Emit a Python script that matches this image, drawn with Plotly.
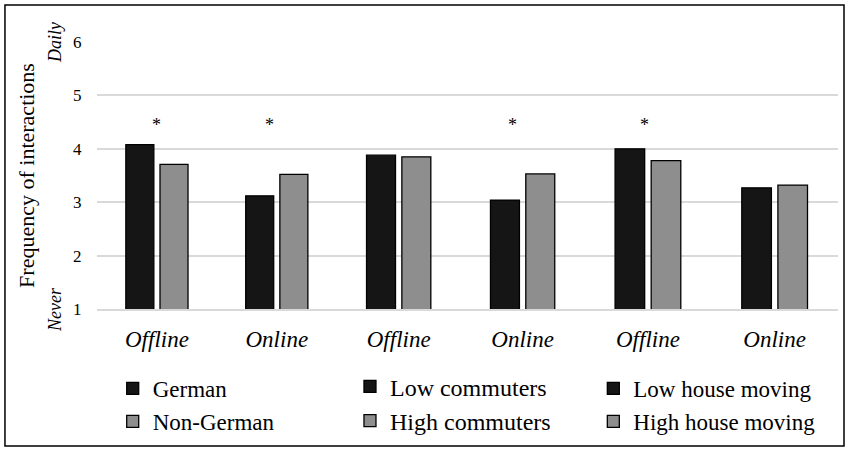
import plotly.graph_objects as go
from plotly.subplots import make_subplots

# Interaction modes shown in every panel
modes = ["Offline", "Online"]

# Panel 1: nationality
german = [4.08, 3.12]
non_german = [3.71, 3.52]

# Panel 2: commuting
low_commuters = [3.88, 3.04]
high_commuters = [3.85, 3.53]

# Panel 3: residential mobility
low_house_moving = [4.00, 3.27]
high_house_moving = [3.78, 3.32]

# Significant differences (marked with an asterisk)
sig_nationality = ["Offline", "Online"]
sig_commuting = ["Online"]
sig_moving = ["Offline"]

y_ticks = [1, 2, 3, 4, 5, 6]

DARK = "#151515"
LIGHT = "#8e8e8e"
GRID = "#d9d9d9"
SERIF = "Liberation Serif"

fig = make_subplots(rows=1, cols=3, shared_yaxes=True, horizontal_spacing=0)

panels = [
    (("German", german), ("Non-German", non_german), "legend"),
    (("Low commuters", low_commuters), ("High commuters", high_commuters), "legend2"),
    (("Low house moving", low_house_moving), ("High house moving", high_house_moving), "legend3"),
]

for col, (low, high, leg) in enumerate(panels, start=1):
    for (name, vals), color in ((low, DARK), (high, LIGHT)):
        fig.add_trace(
            go.Bar(
                x=modes,
                y=vals,
                name=name,
                legend=leg,
                marker=dict(color=color, line=dict(color="#000000", width=1.3)),
                hoverinfo="x+y+name",
            ),
            row=1,
            col=col,
        )

# x-domains of the three panels (paper coordinates)
domains = [[0.0, 0.3235], [0.3235, 0.658], [0.658, 1.0]]
for i, dom in enumerate(domains, start=1):
    fig.update_xaxes(
        domain=dom,
        showgrid=False,
        showline=True,
        linecolor=GRID,
        linewidth=2,
        ticks="",
        tickfont=dict(family=SERIF, size=23, color="#000000", style="italic"),
        ticklabelstandoff=8,
        automargin=False,
        row=1,
        col=i,
    )
    fig.update_yaxes(
        range=[1, 6],
        tickvals=y_ticks,
        showgrid=True,
        gridcolor=GRID,
        gridwidth=2,
        zeroline=False,
        showline=False,
        ticks="",
        automargin=False,
        row=1,
        col=i,
    )

# Invisible outside ticks keep the value labels clear of the plot edge
fig.update_yaxes(
    ticks="outside",
    ticklen=11,
    tickcolor="rgba(0,0,0,0)",
    tickfont=dict(family=SERIF, size=17, color="#000000"),
    title=dict(
        text="Frequency of interactions",
        font=dict(family=SERIF, size=22, color="#000000"),
        standoff=32,
    ),
    row=1,
    col=1,
)

# Scale end labels
for txt, yv in (("Daily", 6), ("Never", 1)):
    fig.add_annotation(
        text=txt,
        xref="paper",
        yref="y",
        x=-0.0567,
        y=yv,
        textangle=-90,
        showarrow=False,
        font=dict(family=SERIF, size=18, color="#000000", style="italic"),
        xanchor="center",
        yanchor="middle",
    )

# Significance asterisks
ast_shift = {(1, "Offline"): 0, (1, "Online"): -7, (2, "Online"): -10, (3, "Offline"): -3}
for col, sigs in enumerate((sig_nationality, sig_commuting, sig_moving), start=1):
    xref = "x" if col == 1 else f"x{col}"
    for m in sigs:
        fig.add_annotation(
            text="*",
            xref=xref,
            yref="y",
            x=m,
            y=4.45,
            xshift=ast_shift.get((col, m), 0),
            showarrow=False,
            font=dict(family=SERIF, size=18, color="#000000"),
        )

# Outer frame
fig.add_shape(
    type="rect",
    xref="paper",
    yref="paper",
    x0=-0.1242,
    x1=1.0081,
    y0=-0.5131,
    y1=1.1386,
    line=dict(color="#000000", width=1.5),
    fillcolor="rgba(0,0,0,0)",
    layer="below",
)

legend_common = dict(
    orientation="v",
    yanchor="top",
    xanchor="left",
    bgcolor="rgba(0,0,0,0)",
    traceorder="normal",
    itemclick=False,
    itemdoubleclick=False,
)

fig.update_layout(
    width=850,
    height=452,
    margin=dict(l=97, r=12, t=42, b=143, autoexpand=False),
    paper_bgcolor="#ffffff",
    plot_bgcolor="#ffffff",
    barmode="group",
    bargap=0.43,
    bargroupgap=0.18,
    font=dict(family=SERIF, color="#000000"),
    showlegend=True,
    legend=dict(x=0.0212, y=-0.217, font=dict(family=SERIF, size=23, color="#000000"), **legend_common),
    legend2=dict(x=0.3414, y=-0.207, font=dict(family=SERIF, size=24, color="#000000"), **legend_common),
    legend3=dict(x=0.6698, y=-0.217, font=dict(family=SERIF, size=23, color="#000000"), **legend_common),
)

fig.write_html("out.html")
